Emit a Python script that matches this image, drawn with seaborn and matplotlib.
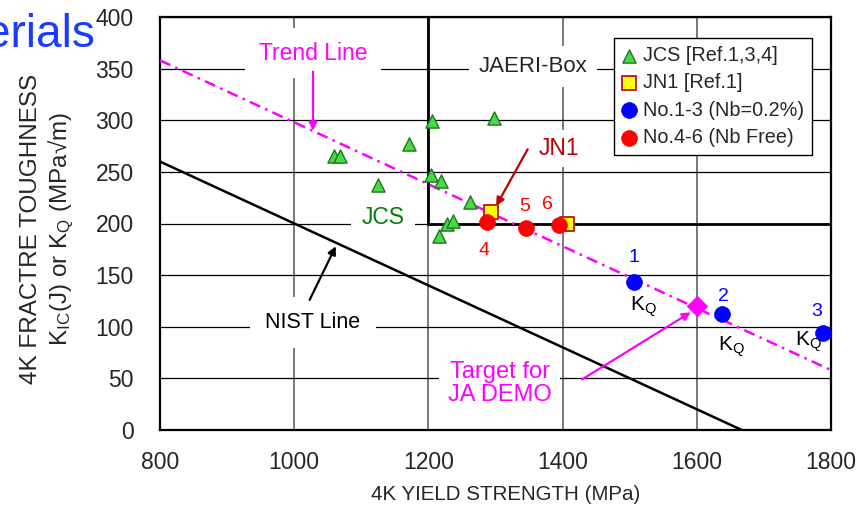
import matplotlib
matplotlib.use("Agg")
import matplotlib.pyplot as plt
import numpy as np
import pandas as pd
import seaborn as sns

# %% data
jcs_ys = [1060, 1068, 1125, 1171, 1205, 1298, 1204, 1219, 1262, 1227, 1236, 1216]
jcs_k = [265, 265, 237, 277, 299, 302, 247, 241, 221, 200, 202, 188]

jn1_ys = [1293, 1407]
jn1_k = [211, 200]

nb_ys = [1506, 1638, 1788]
nb_k = [143, 112, 94]
nb_labels = ["1", "2", "3"]

free_ys = [1287, 1345, 1394]
free_k = [201, 196, 199]
free_labels = ["4", "5", "6"]

target_ys = [1600]
target_k = [120]

trend_x = [800, 1800]
trend_y = [358, 58]

nist_x = [800, 1667]
nist_y = [260, 0]

# JAERI box corner
box_x = 1200
box_y = 200

x_ticks = [800, 1000, 1200, 1400, 1600, 1800]
y_ticks = [0, 50, 100, 150, 200, 250, 300, 350, 400]

# %% style
sns.set_style("white")
plt.rcParams["font.family"] = ["Liberation Sans", "DejaVu Sans"]
plt.rcParams["mathtext.fontset"] = "custom"
plt.rcParams["mathtext.rm"] = "Liberation Sans"
plt.rcParams["mathtext.it"] = "Liberation Sans"

MAGENTA = "#ff00ff"
DKRED = "#c00000"
DKGREEN = "#0a7a0a"

fig = plt.figure(figsize=(8.56, 5.16), dpi=100)
ax = fig.add_axes([160 / 856, 1 - 430 / 516, 671 / 856, 413 / 516])

ax.set_xlim(800, 1800)
ax.set_ylim(0, 400)
ax.set_xticks(x_ticks)
ax.set_yticks(y_ticks)
ax.tick_params(axis="both", length=0, labelsize=16.5)
ax.tick_params(axis="y", pad=19)
ax.tick_params(axis="x", pad=15)

ax.yaxis.grid(True, color="black", lw=0.9)
ax.xaxis.grid(True, color="#555555", lw=1.1)
ax.set_axisbelow(True)
for sp in ax.spines.values():
    sp.set_color("black")
    sp.set_linewidth(1.6)

# JAERI box
ax.plot([box_x, box_x], [box_y, 400], color="black", lw=2.0, zorder=2)
ax.plot([box_x, 1800], [box_y, box_y], color="black", lw=2.0, zorder=2)

# trend and NIST lines
sns.lineplot(x=trend_x, y=trend_y, ax=ax, color=MAGENTA, lw=1.8,
             linestyle=(0, (4.5, 2.2, 1, 2.2)), zorder=3)
sns.lineplot(x=nist_x, y=nist_y, ax=ax, color="black", lw=1.8, zorder=3)

# %% points
sns.scatterplot(x=jcs_ys, y=jcs_k, ax=ax, marker="^", s=90, color="#48d848",
                edgecolor="#1a7a1a", linewidth=1.0, label="JCS [Ref.1,3,4]", zorder=5)
sns.scatterplot(x=jn1_ys, y=jn1_k, ax=ax, marker="s", s=95, color="#ffff00",
                edgecolor="#c0202a", linewidth=1.4, label="JN1 [Ref.1]", zorder=5)
sns.scatterplot(x=nb_ys, y=nb_k, ax=ax, marker="o", s=130, color="#0000ff",
                edgecolor="#0000ff", linewidth=0.5, label="No.1-3 (Nb=0.2%)", zorder=6)
sns.scatterplot(x=free_ys, y=free_k, ax=ax, marker="o", s=130, color="#ff0000",
                edgecolor="#ff0000", linewidth=0.5, label="No.4-6 (Nb Free)", zorder=6)
sns.scatterplot(x=target_ys, y=target_k, ax=ax, marker="D", s=110, color=MAGENTA,
                edgecolor=MAGENTA, linewidth=0.5, zorder=6)

leg = ax.legend(loc="upper right", bbox_to_anchor=((812 - 160) / 671, (430 - 38) / 413),
                borderaxespad=0, fontsize=14.3, frameon=True, fancybox=False,
                framealpha=1, edgecolor="black", handlelength=0.7,
                handletextpad=0.35, borderpad=0.4, labelspacing=0.42)
leg.get_frame().set_linewidth(1.0)
leg.set_zorder(10)

# %% labels on points
for x, y, t in zip([1506, 1640, 1778], [167, 129, 115], nb_labels):
    ax.text(x, y, t, color="#0000ff", fontsize=14, ha="center", va="center", zorder=7)
for x, y in zip([1521, 1651, 1766], [119, 81, 85]):
    ax.text(x, y, r"K$_{\rm Q}$", color="black", fontsize=15, ha="center",
            va="center", zorder=7)
for x, y, t in zip([1283, 1344, 1378], [174, 216, 218], free_labels):
    ax.text(x, y, t, color="#ff0000", fontsize=14, ha="center", va="center", zorder=7)

white = dict(boxstyle="square,pad=0.45", facecolor="white", edgecolor="none")
arrow = dict(arrowstyle="-|>", lw=1.6, mutation_scale=12, shrinkA=0, shrinkB=0)

ax.text(1356, 352, "JAERI-Box", fontsize=16, ha="center", va="center",
        bbox=white, zorder=4)
ax.text(1132, 206, "JCS", fontsize=16.5, color=DKGREEN, ha="center", va="center",
        bbox=white, zorder=4)

ax.text(1028, 365, "Trend Line", fontsize=16.5, color=MAGENTA, ha="center",
        va="center", bbox=dict(boxstyle="square,pad=0.6", facecolor="white",
                               edgecolor="none"), zorder=4)
ax.annotate("", xy=(1028, 290), xytext=(1028, 347),
            arrowprops=dict(arrow, color=MAGENTA), zorder=4)

ax.text(1395, 273, "JN1", fontsize=16.5, color=DKRED, ha="center", va="center",
        bbox=dict(boxstyle="square,pad=0.3", facecolor="white", edgecolor="none"),
        zorder=4)
ax.annotate("", xy=(1301, 217), xytext=(1348, 272),
            arrowprops=dict(arrow, color=DKRED), zorder=4)

ax.text(1028, 104, "NIST Line", fontsize=15.5, color="black", ha="center",
        va="center", bbox=dict(boxstyle="square,pad=0.7", facecolor="white",
                               edgecolor="none"), zorder=4)
ax.annotate("", xy=(1062, 178), xytext=(1023, 126),
            arrowprops=dict(arrow, color="black"), zorder=4)

ax.text(1306, 45, "Target for\nJA DEMO", fontsize=17, color=MAGENTA, ha="center",
        va="center", linespacing=1.1,
        bbox=dict(boxstyle="square,pad=0.35", facecolor="white", edgecolor="none"),
        zorder=4)
ax.annotate("", xy=(1591, 114), xytext=(1429, 49),
            arrowprops=dict(arrow, color=MAGENTA), zorder=4)

# %% axis titles
ax.set_xlabel("")
ax.set_ylabel("")
fig.text(506 / 856, 1 - 495 / 516, "4K YIELD STRENGTH (MPa)", fontsize=14.8,
         ha="center", va="center")
fig.text(31 / 856, 1 - 229 / 516, "4K FRACTRE TOUGHNESS", fontsize=17.5,
         rotation=90, ha="center", va="center")
fig.text(61 / 856, 1 - 229 / 516, r"K$_{\rm IC}$(J) or K$_{\rm Q}$ (MPa√m)",
         fontsize=17.5, rotation=90, ha="center", va="center")

# partial title word cut off at the left edge, as in the source slide
fig.text(95 / 856, 1 - 47 / 516, "erials", fontsize=33, color="#1a3cff",
         ha="right", va="baseline")

fig.savefig("out.png", dpi=100)
